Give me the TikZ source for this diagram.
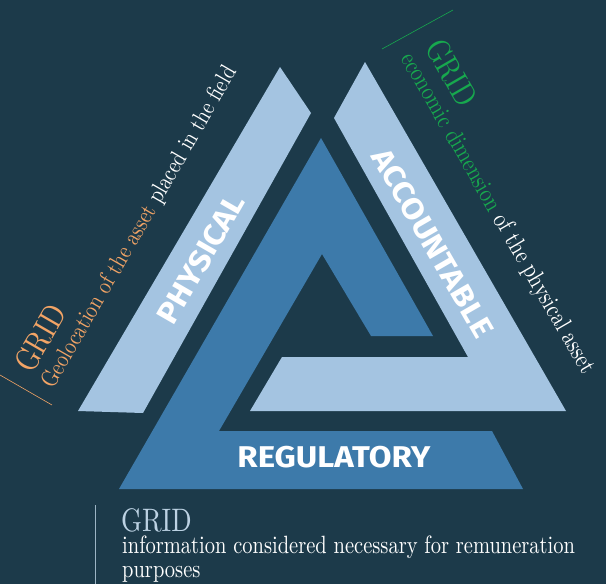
\documentclass[tikz,border=0pt]{standalone}
\usepackage{fontspec}
\newfontfamily\gridfont{lmroman10-regular}[Extension=.otf,FakeStretch=0.82]
\newfontfamily\labfont{Fira Sans}[FakeStretch=1.1]
\definecolor{bg}{HTML}{1C3A4A}
\definecolor{lightb}{HTML}{A4C4E1}
\definecolor{midb}{HTML}{3D7AAA}
\definecolor{orng}{HTML}{F2A466}
\definecolor{grn}{HTML}{17A84E}
\definecolor{gridgrey}{HTML}{BCD2E3}
\begin{document}
\begin{tikzpicture}[x=1pt,y=-1pt,
  lab/.style={text=white,inner sep=0pt,font=\labfont\bfseries\fontsize{30}{31}\selectfont},
  body/.style={inner sep=0pt,anchor=base west,font=\gridfont\fontsize{25}{28}\selectfont},
  head/.style={inner sep=0pt,anchor=base west,font=\gridfont\fontsize{33}{35}\selectfont}]
\useasboundingbox (0,0) rectangle (606,584);
\fill[bg] (0,0) rectangle (606,584);
% bands
\fill[lightb] (280,67) -- (311,113) -- (143,413) -- (78,411) -- cycle;
\fill[lightb] (365,62) -- (566,411) -- (250,411) -- (282,357) -- (468,357) -- (334,118) -- cycle;
\fill[midb] (321,138) -- (433,336) -- (371,336) -- (322,254) -- (219,431) -- (492,431) -- (523,489) -- (119,489) -- cycle;
% labels
\node[lab,rotate=60] (phys) at (201,259) {PHYSICAL};
\node[lab,rotate=-60] (acc) at (433,243) {ACCOUNTABLE};
\node[lab] (reg) at (334,457) {REGULATORY};
% left text
\coordinate (la) at (0,375);
\coordinate (lb) at (52,405);
\draw[orng,line width=0.6pt] (la) -- (lb);
\node[head,rotate=60,text=orng] (gridL) at (32,375) {GRID};
\node[body,rotate=60,font=\gridfont\fontsize{24}{28}\selectfont] (geo) at (53,390) {\textcolor{orng}{Geolocation of the asset} \textcolor{white}{placed in the field}};
% right text
\coordinate (ra) at (382,49);
\coordinate (rb) at (453,10);
\draw[grn,line width=0.6pt] (ra) -- (rb);
\node[head,rotate=-60,text=grn] (gridR) at (424,47) {GRID};
\node[body,rotate=-60] (eco) at (400,58) {\textcolor{grn}{economic dimension} \textcolor{white}{of the physical asset}};
% bottom text
\coordinate (ba) at (95,505);
\coordinate (bb) at (95,584);
\draw[gridgrey!80!bg,line width=0.8pt] (ba) -- (bb);
\node[head,font=\gridfont\fontsize{32.5}{34}\selectfont,text=gridgrey] (gridB) at (121,531) {GRID};
\node[body,text=white] (info1) at (122,553) {information considered necessary for remuneration};
\node[body,text=white] (info2) at (122,577) {purposes};
\end{tikzpicture}
\end{document}
